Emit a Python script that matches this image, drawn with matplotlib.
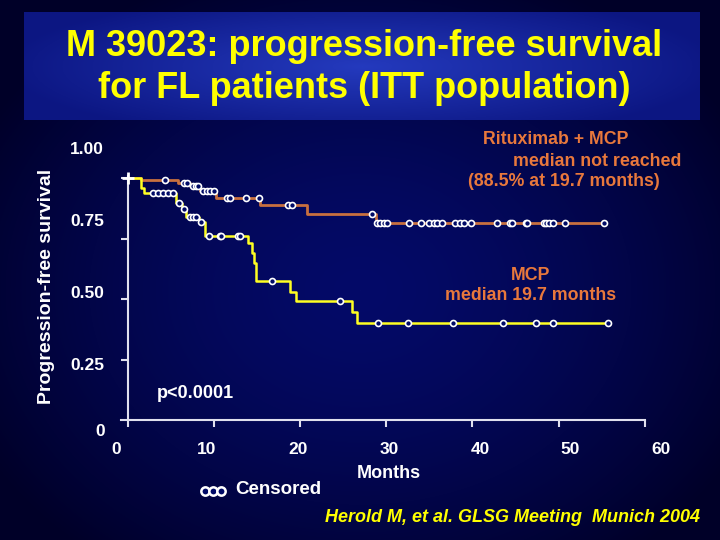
import matplotlib
matplotlib.use("Agg")
import matplotlib.pyplot as plt
import numpy as np

# Rituximab + MCP arm (orange): step times (months) and survival levels
rmcp_times = [0, 1.6, 5.9, 7.3, 8.4, 10.3, 15.4, 20.8, 28.8]
rmcp_surv = [1.0, 0.992, 0.981, 0.967, 0.948, 0.916, 0.888, 0.850, 0.813]
rmcp_end = 55.3
rmcp_censored = [4.3, 6.5, 6.9, 7.6, 7.9, 8.2, 8.8, 9.2, 9.6, 10.0,
                 11.5, 11.9, 13.7, 15.3, 18.6, 19.1, 28.4,
                 28.9, 29.3, 29.7, 30.1, 32.7, 34.1, 35.0, 35.5, 35.9, 36.5,
                 38.0, 38.6, 39.0, 39.8, 42.9, 44.4, 44.6, 46.2, 46.4,
                 48.3, 48.6, 48.9, 49.4, 50.8, 55.3]

# MCP arm (yellow)
mcp_times = [0, 1.6, 1.9, 5.6, 6.3, 6.8, 8.3, 9.0, 14.0, 14.4, 14.7, 14.9,
             18.8, 19.5, 26.0, 26.6]
mcp_surv = [1.0, 0.96, 0.94, 0.895, 0.872, 0.84, 0.82, 0.762, 0.730, 0.689,
            0.647, 0.574, 0.530, 0.492, 0.448, 0.402]
mcp_end = 55.8
mcp_censored = [3.0, 3.5, 4.1, 4.7, 5.3, 6.0, 6.5, 7.2, 7.6, 8.0, 8.5,
                9.4, 10.7, 10.9, 12.8, 13.0, 16.8, 24.7,
                29.1, 32.5, 37.8, 43.6, 47.4, 49.4, 55.8]

xticks = [0, 10, 20, 30, 40, 50, 60]
ytick_labels = ["1.00", "0.75", "0.50", "0.25"]

FONT = "Liberation Sans"
ORANGE_LINE = "#c8703f"
ORANGE_TXT = "#e8783c"
YELLOW = "#ffff22"
NAVY = "#000a66"


def level_at(times, surv, t):
    i = np.searchsorted(times, t, side="right") - 1
    return np.array(surv)[i]


fig = plt.figure(figsize=(7.2, 5.4), dpi=100)

# background in pixel coordinates
bg = fig.add_axes([0, 0, 1, 1])
bg.axis("off")
yy, xx = np.mgrid[0:540, 0:720]
r = np.sqrt(((xx - 360) / 430.0) ** 2 + ((yy - 290) / 340.0) ** 2)
r = np.clip(r, 0, 1)[..., None] ** 1.5
c_in = np.array([4, 10, 104]) / 255.0
c_out = np.array([0, 0, 40]) / 255.0
bg.imshow(c_in * (1 - r) + c_out * r, extent=[0, 720, 540, 0], aspect="auto", zorder=0)

# title box
ty, tx = np.mgrid[0:108, 0:676]
rt = np.sqrt(((tx - 338) / 360.0) ** 2 + ((ty - 54) / 75.0) ** 2)
rt = np.clip(rt, 0, 1)[..., None]
t_in = np.array([36, 58, 190]) / 255.0
t_out = np.array([12, 22, 130]) / 255.0
bg.imshow(t_in * (1 - rt) + t_out * rt, extent=[24, 700, 120, 12], aspect="auto", zorder=1)
bg.set_xlim(0, 720)
bg.set_ylim(540, 0)

bg.text(364, 47, "M 39023: progression-free survival", color="#ffff00", fontsize=26,
        fontweight="bold", family=FONT, ha="center", va="center", zorder=2)
bg.text(364, 89, "for FL patients (ITT population)", color="#ffff00", fontsize=26,
        fontweight="bold", family=FONT, ha="center", va="center", zorder=2)

# main axes: 0 months at px 127.5, 8.62 px per month; S=0 at py 420, 242 px per unit
px0, pxm = 127.5, 8.62
py0, pys = 420.0, 242.0
ax_l, ax_r, ax_t, ax_b = 112, 655, 168, 430
ax = fig.add_axes([ax_l / 720, 1 - ax_b / 540, (ax_r - ax_l) / 720, (ax_b - ax_t) / 540])
ax.set_facecolor("none")
ax.set_xlim((ax_l - px0) / pxm, (ax_r - px0) / pxm)
ax.set_ylim((py0 - ax_b) / pys, (py0 - ax_t) / pys)

for s in ["top", "right"]:
    ax.spines[s].set_visible(False)
ax.spines["left"].set_position(("data", 0))
ax.spines["bottom"].set_position(("data", 0))
ax.spines["left"].set_bounds(0, 1.01)
ax.spines["bottom"].set_bounds(-0.8, 60)
for s in ["left", "bottom"]:
    ax.spines[s].set_color("#e0e0ee")
    ax.spines[s].set_linewidth(1.5)
ax.set_xticks(xticks)
ax.set_yticks([0.25, 0.5, 0.75, 1.0])
ax.tick_params(colors="#e0e0ee", width=1.5, length=5, labelbottom=False, labelleft=False)

# curves
ax.step(rmcp_times + [rmcp_end], rmcp_surv + [rmcp_surv[-1]], where="post",
        color=ORANGE_LINE, lw=2.0, zorder=3)
ax.step(mcp_times + [mcp_end], mcp_surv + [mcp_surv[-1]], where="post",
        color=YELLOW, lw=1.8, zorder=3)
ax.plot(rmcp_censored, level_at(rmcp_times, rmcp_surv, rmcp_censored), "o",
        ms=4.3, mfc=NAVY, mec="white", mew=1.2, zorder=4, clip_on=False)
ax.plot(mcp_censored, level_at(mcp_times, mcp_surv, mcp_censored), "o",
        ms=4.3, mfc=NAVY, mec="white", mew=1.2, zorder=4, clip_on=False)
ax.plot([0], [1.0], "+", color="white", ms=8, mew=2, zorder=5, clip_on=False)

# tick labels placed as on the slide
kw = dict(color="white", fontsize=12.5, fontweight="bold", family=FONT, va="center")
for lab, y in zip(ytick_labels, [150, 221, 293, 366]):
    bg.text(87, y, lab, ha="center", **kw)
bg.text(100, 432, "0", ha="center", **kw)
for v, x in zip(xticks, [116, 207, 298, 389, 480, 570, 661]):
    bg.text(x, 449, str(v), ha="center", **kw)
bg.text(389, 473, "Months", ha="center", **dict(kw, fontsize=13))
bg.text(47, 286, "Progression-free survival", ha="center", rotation=90, **dict(kw, fontsize=14))
bg.text(157, 393, "p<0.0001", ha="left", **dict(kw, fontsize=13))
bg.text(235, 490, "Censored", ha="left", **dict(kw, fontsize=13.5))
bg.plot([205, 213, 221], [491, 491, 491], "o", ms=6, mfc=NAVY, mec="white", mew=1.8, zorder=3)

okw = dict(color=ORANGE_TXT, fontsize=12.8, fontweight="bold", family=FONT, va="center", ha="center")
bg.text(556, 140, "Rituximab + MCP", **okw)
bg.text(597, 161, "median not reached", **okw)
bg.text(564, 182, "(88.5% at 19.7 months)", **okw)
bg.text(531, 275, "MCP", **okw)
bg.text(531, 296, "median 19.7 months", **okw)

bg.text(700, 518, "Herold M, et al. GLSG Meeting  Munich 2004", color="#ffff00",
        fontsize=13, fontweight="bold", style="italic", family=FONT,
        ha="right", va="center")

fig.savefig("out.png", dpi=100, facecolor=fig.get_facecolor())
